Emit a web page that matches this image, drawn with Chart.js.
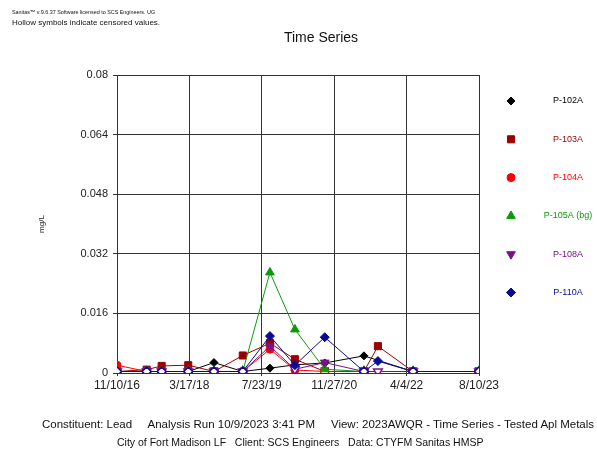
<!DOCTYPE html>
<html>
<head>
<meta charset="utf-8">
<script src="https://cdn.jsdelivr.net/npm/chart.js@4/dist/chart.umd.min.js"></script>
<style>
  html, body { margin: 0; padding: 0; background: #fff; }
  #wrap { position: relative; width: 597px; height: 450px; overflow: hidden; font-family: "Liberation Sans", Arial, sans-serif; color: #111; }
  #c { position: absolute; left: 0; top: 0; }
  .t { position: absolute; white-space: pre; line-height: 1; }
</style>
</head>
<body>
<div id="wrap">
  <canvas id="c" width="597" height="450"></canvas>
  <div class="t" style="left:12px;top:10px;font-size:5.4px;">Sanitas™ v.9.6.37 Software licensed to SCS Engineers. UG</div>
  <div class="t" style="left:12px;top:19px;font-size:8px;">Hollow symbols indicate censored values.</div>
  <div class="t" style="left:221px;width:200px;text-align:center;top:30px;font-size:14px;">Time Series</div>
  <div class="t" style="left:42px;top:419px;font-size:11.5px;">Constituent: Lead     Analysis Run 10/9/2023 3:41 PM     View: 2023AWQR - Time Series - Tested Apl Metals</div>
  <div class="t" style="left:117px;top:437px;font-size:10.5px;">City of Fort Madison LF   Client: SCS Engineers   Data: CTYFM Sanitas HMSP</div>
</div>
<script>
// ---------------- data ----------------
const sampleDates = ['2016-11-10','2017-05-31','2017-09-10','2018-03-10','2018-09-01','2019-03-16',
                     '2019-09-17','2020-03-05','2020-09-24','2021-06-18','2021-09-21','2022-05-18','2023-08-10'];

const seriesNames = ['P-102A','P-103A','P-104A','P-105A (bg)','P-108A','P-110A'];

const p102a = [0.0004,0.0004,0.0004,0.0004,0.0028,0.0004,0.0013,0.0022,0.0027,0.0046,null,0.0004,0.0004];
const p102aCensored = [1,1,1,1,0,1,0,0,0,0,0,1,1];

const p103a = [0.0004,0.0009,0.0019,0.0021,0.0004,0.0047,0.0080,0.0037,0.0004,0.0004,0.0072,0.0004,0.0004];
const p103aCensored = [1,0,0,0,1,0,0,0,1,1,0,1,1];

const p104a = [0.0021,0.0004,0.0004,0.0004,0.0004,0.0004,0.0064,0.0008,0.0004,0.0004,null,0.0004,0.0004];
const p104aCensored = [0,1,1,1,1,1,0,0,1,1,0,1,1];

const p105a = [0.0004,0.0004,0.0004,0.0004,0.0004,0.0004,0.0270,0.0117,0.0010,0.0004,null,0.0004,0.0004];
const p105aCensored = [1,1,1,1,1,1,0,0,0,1,0,1,1];

const p108a = [0.0004,0.0004,0.0004,0.0004,0.0004,0.0004,0.0072,0.0010,0.0028,0.0004,0.0004,0.0004,0.0004];
const p108aCensored = [1,1,1,1,1,1,0,1,0,1,1,1,1];

const p110a = [0.0004,0.0004,0.0004,0.0004,0.0004,0.0004,0.0099,0.0021,0.0096,0.0004,0.0032,0.0004,0.0004];
const p110aCensored = [1,1,1,1,1,1,0,0,0,1,0,1,1];

const xTickLabels = ['11/10/16','3/17/18','7/23/19','11/27/20','4/4/22','8/10/23'];
const yTickValues = [0, 0.016, 0.032, 0.048, 0.064, 0.08];
const yTickLabels = ['0','0.016','0.032','0.048','0.064','0.08'];
const yAxisTitle = 'mg/L';

// ---------------- styles ----------------
const colors = ['#000000','#9b0000','#ff0000','#0c9a0c','#7b108c','#0a0a96'];
const pointStyles = ['rectRot','rect','circle','triangle','triangle','rectRot'];
const pointRotations = [0,0,0,0,180,0];
const pointRadii = [4,5,4,5,5,4.5];

// ---------------- helpers ----------------
const DAY = 86400000;
const origin = Date.UTC(2016, 10, 10);
function dayNum(iso) {
  const p = iso.split('-').map(Number);
  return (Date.UTC(p[0], p[1]-1, p[2]) - origin) / DAY;
}
function tickDay(lbl) {
  const p = lbl.split('/').map(Number);
  return (Date.UTC(2000 + p[2], p[0]-1, p[1]) - origin) / DAY;
}
const xTickValues = xTickLabels.map(tickDay);

const allValues = [p102a,p103a,p104a,p105a,p108a,p110a];
const allCensored = [p102aCensored,p103aCensored,p104aCensored,p105aCensored,p108aCensored,p110aCensored];

const datasets = allValues.map((vals, s) => {
  const pts = [], bg = [], bw = [];
  vals.forEach((v, i) => {
    if (v === null) return;
    pts.push({x: dayNum(sampleDates[i]), y: v});
    const c = allCensored[s][i];
    bg.push(c ? '#ffffff' : colors[s]);
    bw.push(c ? 1.5 : 1);
  });
  return {
    label: seriesNames[s],
    data: pts,
    borderColor: colors[s],
    borderWidth: 1,
    backgroundColor: colors[s],
    pointBackgroundColor: bg,
    pointBorderColor: colors[s],
    pointBorderWidth: bw,
    pointStyle: pointStyles[s],
    pointRotation: pointRotations[s],
    pointRadius: pointRadii[s],
    pointHoverRadius: pointRadii[s],
    tension: 0,
    order: 5 - s
  };
});

// custom legend drawn on canvas at the right
const sideLegend = {
  id: 'sideLegend',
  afterDraw(chart) {
    const ctx = chart.ctx;
    const area = chart.chartArea;
    const symX = area.right + 32;
    const txtX = area.right + 89;
    const y0 = 101, step = 38.3;
    chart.data.datasets.forEach((ds, i) => {
      const y = y0 + i * step;
      ctx.save();
      ctx.fillStyle = ds.borderColor;
      ctx.strokeStyle = ds.borderColor;
      ctx.lineWidth = 1;
      Chart.helpers.drawPoint(ctx, {
        pointStyle: ds.pointStyle, radius: ds.pointRadius,
        rotation: ds.pointRotation, borderWidth: 1
      }, symX, y);
      ctx.font = '9px "Liberation Sans", Arial, sans-serif';
      ctx.textAlign = 'center';
      ctx.textBaseline = 'middle';
      ctx.fillText(ds.label, txtX, y);
      ctx.restore();
    });
  }
};

new Chart(document.getElementById('c'), {
  type: 'line',
  data: { datasets },
  options: {
    responsive: false,
    devicePixelRatio: 1,
    animation: false,
    layout: { padding: { left: 33, right: 118, top: 75, bottom: 47 } },
    plugins: {
      legend: { display: false },
      title: { display: false },
      tooltip: { enabled: false }
    },
    scales: {
      x: {
        type: 'linear',
        min: xTickValues[0],
        max: xTickValues[xTickValues.length - 1],
        afterBuildTicks: (scale) => { scale.ticks = xTickValues.map(v => ({value: v})); },
        afterFit: (scale) => { scale.height = 30; },
        grid: { color: '#333333', lineWidth: 1, tickLength: 3, drawTicks: true },
        border: { color: '#333333', width: 1 },
        ticks: {
          autoSkip: false, maxRotation: 0, padding: 2,
          color: '#222',
          font: { family: '"Liberation Sans", Arial, sans-serif', size: 12 },
          callback: (v, i) => xTickLabels[i]
        }
      },
      y: {
        type: 'linear',
        min: yTickValues[0],
        max: yTickValues[yTickValues.length - 1],
        afterBuildTicks: (scale) => { scale.ticks = yTickValues.map(v => ({value: v})); },
        afterFit: (scale) => { scale.width = 84; },
        grid: { color: '#333333', lineWidth: 1, tickLength: 4, drawTicks: true },
        border: { color: '#333333', width: 1 },
        title: {
          display: true, text: yAxisTitle, color: '#222',
          font: { family: '"Liberation Sans", Arial, sans-serif', size: 8 }
        },
        ticks: {
          padding: 5, color: '#222',
          font: { family: '"Liberation Sans", Arial, sans-serif', size: 11 },
          callback: (v, i) => yTickLabels[i]
        }
      }
    }
  },
  plugins: [sideLegend]
});
</script>
</body>
</html>
